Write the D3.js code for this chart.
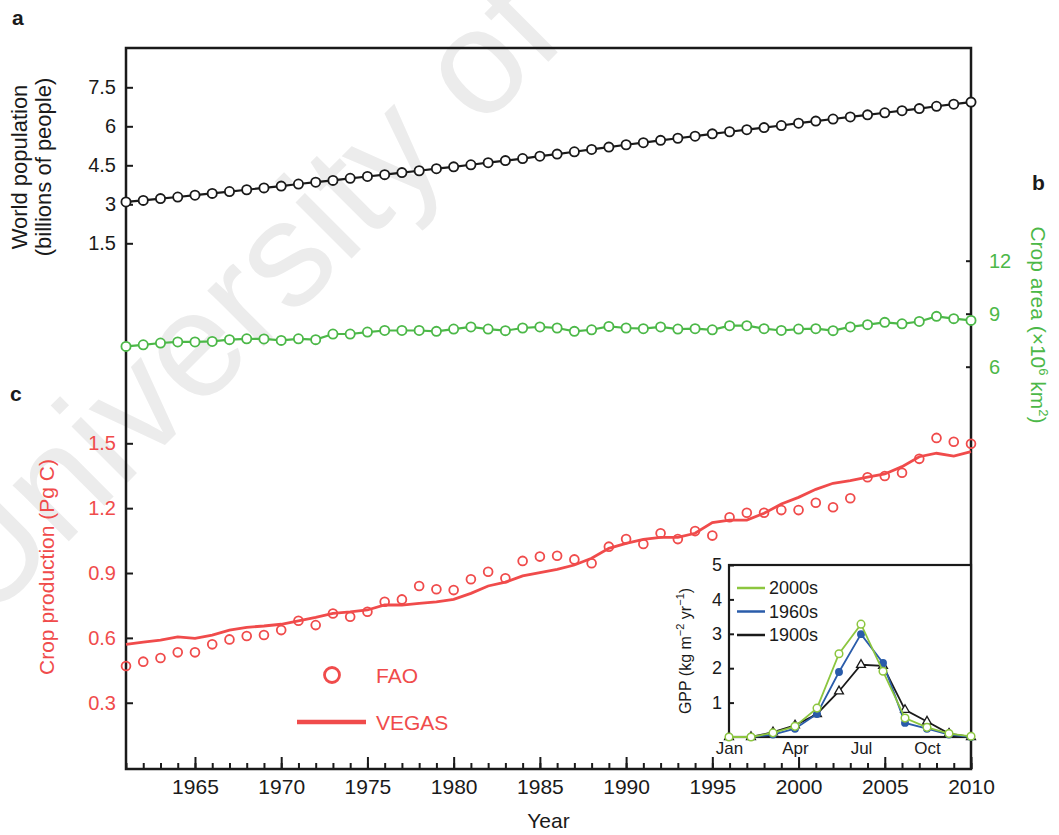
<!DOCTYPE html>
<html>
<head>
<meta charset="utf-8">
<script src="https://cdn.jsdelivr.net/npm/d3@7"></script>
<style>
  html, body { margin: 0; padding: 0; background: #fff; }
  svg { display: block; font-family: "Liberation Sans", Arial, sans-serif; }
  .axis path { display: none; }
</style>
</head>
<body>
<div id="chart"></div>
<script>
// ---- data ----
const years = d3.range(1961, 2011);

const population = [3.09, 3.15, 3.22, 3.28, 3.35, 3.42, 3.49, 3.56, 3.63, 3.70,
  3.78, 3.85, 3.92, 4.00, 4.07, 4.14, 4.22, 4.29, 4.37, 4.44,
  4.52, 4.60, 4.68, 4.76, 4.85, 4.93, 5.02, 5.11, 5.20, 5.29,
  5.37, 5.46, 5.54, 5.62, 5.71, 5.79, 5.87, 5.95, 6.03, 6.12,
  6.20, 6.28, 6.36, 6.44, 6.52, 6.60, 6.68, 6.77, 6.85, 6.93];

const cropArea = [7.15, 7.24, 7.34, 7.40, 7.40, 7.43, 7.53, 7.58, 7.57, 7.49,
  7.58, 7.53, 7.85, 7.85, 7.96, 8.05, 8.05, 8.05, 8.00, 8.13,
  8.25, 8.13, 8.04, 8.19, 8.25, 8.19, 8.00, 8.09, 8.28, 8.19,
  8.15, 8.25, 8.13, 8.15, 8.09, 8.32, 8.32, 8.15, 8.05, 8.13,
  8.15, 8.04, 8.25, 8.38, 8.51, 8.43, 8.56, 8.85, 8.72, 8.62];

const faoProduction = [0.470, 0.490, 0.507, 0.533, 0.533, 0.570, 0.593, 0.609, 0.613, 0.636,
  0.679, 0.659, 0.713, 0.698, 0.721, 0.767, 0.778, 0.840, 0.825, 0.821,
  0.871, 0.906, 0.876, 0.956, 0.976, 0.980, 0.963, 0.945, 1.022, 1.057,
  1.034, 1.084, 1.057, 1.094, 1.073, 1.158, 1.179, 1.179, 1.191, 1.191,
  1.225, 1.204, 1.246, 1.343, 1.349, 1.364, 1.428, 1.525, 1.507, 1.498];

const vegasProduction = [0.570, 0.580, 0.590, 0.605, 0.598, 0.613, 0.636, 0.649, 0.655, 0.663,
  0.679, 0.695, 0.713, 0.720, 0.729, 0.752, 0.752, 0.760, 0.767, 0.778,
  0.806, 0.840, 0.858, 0.887, 0.902, 0.917, 0.937, 0.968, 1.014, 1.037,
  1.056, 1.065, 1.065, 1.084, 1.133, 1.145, 1.145, 1.176, 1.219, 1.250,
  1.287, 1.315, 1.327, 1.343, 1.358, 1.392, 1.438, 1.454, 1.441, 1.461];

const popTicks = [1.5, 3, 4.5, 6, 7.5];
const areaTicks = [6, 9, 12];
const prodTicks = [0.3, 0.6, 0.9, 1.2, 1.5];
const yearTicks = [1965, 1970, 1975, 1980, 1985, 1990, 1995, 2000, 2005, 2010];

// inset: monthly GPP
const months = d3.range(1, 13);
const monthTicks = [1, 4, 7, 10];
const monthNames = ['Jan', 'Feb', 'Mar', 'Apr', 'May', 'Jun', 'Jul', 'Aug', 'Sep', 'Oct', 'Nov', 'Dec'];
const gpp2000s = [0, 0, 0.12, 0.31, 0.84, 2.42, 3.28, 1.91, 0.55, 0.28, 0.10, 0.02];
const gpp1960s = [0, 0, 0.07, 0.24, 0.67, 1.89, 2.99, 2.15, 0.41, 0.24, 0.07, 0];
const gpp1900s = [0, 0, 0.14, 0.34, 0.67, 1.33, 2.10, 2.07, 0.79, 0.45, 0.10, 0];
const gppTicks = [1, 2, 3, 4, 5];

const colors = { pop: '#1a1a1a', area: '#4cb848', prod: '#f04b4b',
  g2000: '#8cc63f', g1960: '#2a5caa', g1900: '#1a1a1a' };

// ---- layout ----
const W = 1059, H = 835;
const frame = { left: 126, right: 971, top: 48, bottom: 769 };

const svg = d3.select('#chart').append('svg')
  .attr('width', W).attr('height', H)
  .attr('viewBox', [0, 0, W, H]);

svg.append('rect').attr('width', W).attr('height', H).attr('fill', '#fff');

// watermark behind everything
svg.append('text')
  .attr('transform', 'translate(-15,625) rotate(-45)')
  .attr('font-size', 150)
  .attr('fill', '#ececec')
  .text('University of');

const x = d3.scaleLinear().domain([1961, 2010]).range([frame.left, frame.right]);
const yPop = d3.scaleLinear().domain([0, 7.5]).range([282.3, 87.3]);
const yArea = d3.scaleLinear().domain([6, 12]).range([366.7, 260.7]);
const yProd = d3.scaleLinear().domain([0, 1.5]).range([767.6, 443.3]);

// frame
svg.append('rect')
  .attr('x', frame.left).attr('y', frame.top)
  .attr('width', frame.right - frame.left).attr('height', frame.bottom - frame.top)
  .attr('fill', 'none').attr('stroke', '#1a1a1a').attr('stroke-width', 2.5);

function styleAxis(g, color, size) {
  g.attr('class', 'axis')
    .attr('font-family', null)
    .attr('font-size', size || 20);
  g.selectAll('line').attr('stroke', '#1a1a1a').attr('stroke-width', 2);
  g.selectAll('text').attr('fill', color);
}

// left axes
svg.append('g')
  .attr('transform', `translate(${frame.left},0)`)
  .call(d3.axisLeft(yPop).tickValues(popTicks).tickSize(-7).tickPadding(10).tickFormat(d3.format('')))
  .call(styleAxis, colors.pop);

svg.append('g')
  .attr('transform', `translate(${frame.left},0)`)
  .call(d3.axisLeft(yProd).tickValues(prodTicks).tickSize(-7).tickPadding(10).tickFormat(d3.format('.1f')))
  .call(styleAxis, colors.prod);

// right axis
svg.append('g')
  .attr('transform', `translate(${frame.right},0)`)
  .call(d3.axisRight(yArea).tickValues(areaTicks).tickSize(-5).tickPadding(18).tickFormat(d3.format('d')))
  .call(styleAxis, colors.area);

// bottom axis: minor then major ticks
svg.append('g')
  .attr('transform', `translate(0,${frame.bottom})`)
  .call(d3.axisBottom(x).tickValues(years).tickSize(-6).tickFormat(''))
  .call(styleAxis, colors.pop);

svg.append('g')
  .attr('transform', `translate(0,${frame.bottom})`)
  .call(d3.axisBottom(x).tickValues(yearTicks).tickSize(-12).tickPadding(10).tickFormat(d3.format('d')))
  .call(styleAxis, colors.pop, 21);

// axis titles
svg.append('text')
  .attr('transform', `translate(${(frame.left + frame.right) / 2},828)`)
  .attr('text-anchor', 'middle').attr('font-size', 21).attr('fill', colors.pop)
  .text('Year');

const popTitle = svg.append('text')
  .attr('transform', 'translate(0,167) rotate(-90)')
  .attr('text-anchor', 'middle').attr('font-size', 22).attr('fill', colors.pop);
popTitle.append('tspan').attr('x', 0).attr('y', 27).text('World population');
popTitle.append('tspan').attr('x', 0).attr('y', 51).text('(billions of people)');

svg.append('text')
  .attr('transform', 'translate(54,567) rotate(-90)')
  .attr('text-anchor', 'middle').attr('font-size', 21).attr('fill', colors.prod)
  .text('Crop production (Pg C)');

const areaTitle = svg.append('text')
  .attr('transform', 'translate(1031,325) rotate(90)')
  .attr('text-anchor', 'middle').attr('font-size', 21).attr('fill', colors.area);
areaTitle.append('tspan').text('Crop area (×10');
areaTitle.append('tspan').attr('font-size', 13).attr('dy', -8).text('6');
areaTitle.append('tspan').attr('dy', 8).text(' km');
areaTitle.append('tspan').attr('font-size', 13).attr('dy', -8).text('2');
areaTitle.append('tspan').attr('dy', 8).text(')');

// panel letters
[['a', 12, 25], ['b', 1032, 190], ['c', 10, 401]].forEach(([t, px, py]) => {
  svg.append('text').attr('x', px).attr('y', py)
    .attr('font-size', 21).attr('font-weight', 'bold').attr('fill', '#1a1a1a').text(t);
});

// ---- series ----
const popLine = d3.line().x((d, i) => x(years[i])).y(d => yPop(d));
svg.append('path').datum(population)
  .attr('d', popLine).attr('fill', 'none').attr('stroke', colors.pop).attr('stroke-width', 2.2);
svg.append('g').selectAll('circle').data(population).join('circle')
  .attr('cx', (d, i) => x(years[i])).attr('cy', d => yPop(d)).attr('r', 4.6)
  .attr('fill', '#fff').attr('stroke', colors.pop).attr('stroke-width', 1.8);

const areaLine = d3.line().x((d, i) => x(years[i])).y(d => yArea(d));
svg.append('path').datum(cropArea)
  .attr('d', areaLine).attr('fill', 'none').attr('stroke', colors.area).attr('stroke-width', 2.2);
svg.append('g').selectAll('circle').data(cropArea).join('circle')
  .attr('cx', (d, i) => x(years[i])).attr('cy', d => yArea(d)).attr('r', 4.6)
  .attr('fill', '#fff').attr('stroke', colors.area).attr('stroke-width', 1.8);

const prodLine = d3.line().x((d, i) => x(years[i])).y(d => yProd(d));
svg.append('path').datum(vegasProduction)
  .attr('d', prodLine).attr('fill', 'none').attr('stroke', colors.prod).attr('stroke-width', 2.8);
svg.append('g').selectAll('circle').data(faoProduction).join('circle')
  .attr('cx', (d, i) => x(years[i])).attr('cy', d => yProd(d)).attr('r', 4.4)
  .attr('fill', 'none').attr('stroke', colors.prod).attr('stroke-width', 1.8);

// legend for panel c
svg.append('circle').attr('cx', 332).attr('cy', 675).attr('r', 7.5)
  .attr('fill', 'none').attr('stroke', colors.prod).attr('stroke-width', 2.8);
svg.append('text').attr('x', 376).attr('y', 683).attr('font-size', 21).attr('fill', colors.prod).text('FAO');
svg.append('line').attr('x1', 297).attr('x2', 366).attr('y1', 722).attr('y2', 722)
  .attr('stroke', colors.prod).attr('stroke-width', 4.5);
svg.append('text').attr('x', 376).attr('y', 730).attr('font-size', 21).attr('fill', colors.prod).text('VEGAS');

// ---- inset ----
const inset = { left: 729, right: 971, top: 565, bottom: 737 };
const xm = d3.scaleLinear().domain([1, 12]).range([inset.left, inset.right]);
const yg = d3.scaleLinear().domain([0, 5]).range([inset.bottom, inset.top]);

svg.append('rect')
  .attr('x', inset.left).attr('y', inset.top)
  .attr('width', inset.right - inset.left).attr('height', inset.bottom - inset.top)
  .attr('fill', '#fff').attr('stroke', '#1a1a1a').attr('stroke-width', 2.2);

svg.append('g')
  .attr('transform', `translate(${inset.left},0)`)
  .call(d3.axisLeft(yg).tickValues(gppTicks).tickSize(-5).tickPadding(7).tickFormat(d3.format('d')))
  .call(styleAxis, colors.pop, 18);

svg.append('g')
  .attr('transform', `translate(0,${inset.bottom})`)
  .call(d3.axisBottom(xm).tickValues(monthTicks).tickSize(0).tickPadding(5)
    .tickFormat(d => monthNames[d - 1]))
  .call(styleAxis, colors.pop, 17);

const gppTitle = svg.append('text')
  .attr('transform', 'translate(691,651) rotate(-90)')
  .attr('text-anchor', 'middle').attr('font-size', 16).attr('fill', colors.pop);
gppTitle.append('tspan').text('GPP (kg m');
gppTitle.append('tspan').attr('font-size', 11).attr('dy', -7).text('−2');
gppTitle.append('tspan').attr('dy', 7).text(' yr');
gppTitle.append('tspan').attr('font-size', 11).attr('dy', -7).text('−1');
gppTitle.append('tspan').attr('dy', 7).text(')');

const gppLine = d3.line().x((d, i) => xm(months[i])).y(d => yg(d));
const gppSeries = [
  { name: '2000s', values: gpp2000s, color: colors.g2000, marker: 'open' },
  { name: '1960s', values: gpp1960s, color: colors.g1960, marker: 'filled' },
  { name: '1900s', values: gpp1900s, color: colors.g1900, marker: 'triangle' }
];

gppSeries.slice().reverse().forEach(s => {
  svg.append('path').datum(s.values)
    .attr('d', gppLine).attr('fill', 'none').attr('stroke', s.color).attr('stroke-width', 1.8);
  const pts = svg.append('g');
  if (s.marker === 'triangle') {
    pts.selectAll('path').data(s.values).join('path')
      .attr('transform', (d, i) => `translate(${xm(months[i])},${yg(d)})`)
      .attr('d', d3.symbol(d3.symbolTriangle, 34))
      .attr('fill', '#fff').attr('stroke', s.color).attr('stroke-width', 1.3);
  } else {
    pts.selectAll('circle').data(s.values).join('circle')
      .attr('cx', (d, i) => xm(months[i])).attr('cy', d => yg(d))
      .attr('r', s.marker === 'open' ? 3.8 : 3.2)
      .attr('fill', s.marker === 'open' ? '#fff' : s.color)
      .attr('stroke', s.color).attr('stroke-width', 1.5);
  }
});

// inset legend
gppSeries.forEach((s, i) => {
  const ly = 588 + i * 23.5;
  svg.append('line').attr('x1', 737).attr('x2', 765).attr('y1', ly).attr('y2', ly)
    .attr('stroke', s.color).attr('stroke-width', 2.5);
  svg.append('text').attr('x', 769).attr('y', ly + 6).attr('font-size', 18)
    .attr('fill', colors.pop).text(s.name);
});
</script>
</body>
</html>
